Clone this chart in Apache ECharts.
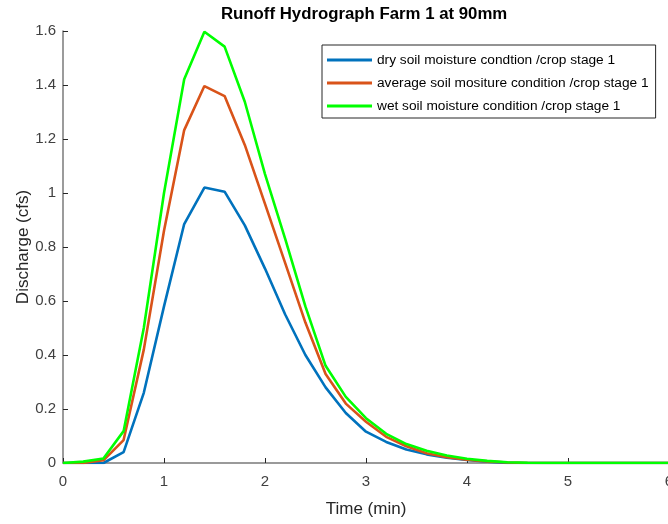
<!DOCTYPE html>
<html>
<head>
<meta charset="utf-8">
<script src="https://cdn.jsdelivr.net/npm/echarts@6/dist/echarts.min.js"></script>
<style>
  html, body { margin: 0; padding: 0; background: #fff; }
  #chart { width: 668px; height: 524px; }
</style>
</head>
<body>
<div id="chart"></div>
<script>
// time steps (min)
var timeMin = [0, 0.2, 0.4, 0.6, 0.8, 1.0, 1.2, 1.4, 1.6, 1.8, 2.0, 2.2, 2.4, 2.6, 2.8, 3.0,
  3.2, 3.4, 3.6, 3.8, 4.0, 4.2, 4.4, 4.6, 4.8, 5.0, 5.2, 5.4, 5.6, 5.8, 6.0]

// discharge (cfs)
var dryQ = [0, 0, 0, 0.04, 0.26, 0.58, 0.885, 1.02, 1.005, 0.88, 0.72, 0.55, 0.40, 0.28, 0.185, 0.116,
  0.078, 0.05, 0.032, 0.02, 0.011, 0.005, 0, 0, 0, 0, 0, 0, 0, 0, 0]
var avgQ = [0, 0, 0.01, 0.085, 0.42, 0.86, 1.233, 1.396, 1.359, 1.178, 0.96, 0.74, 0.52, 0.33, 0.22, 0.153,
  0.097, 0.062, 0.036, 0.021, 0.012, 0.006, 0.002, 0, 0, 0, 0, 0, 0, 0, 0]
var wetQ = [0, 0.005, 0.017, 0.118, 0.5, 1.0, 1.421, 1.597, 1.542, 1.338, 1.07, 0.83, 0.58, 0.36, 0.245, 0.166,
  0.108, 0.07, 0.045, 0.028, 0.016, 0.008, 0.003, 0.001, 0, 0, 0, 0, 0, 0, 0]

var seriesNames = ['dry soil moisture condtion /crop stage 1',
  'average soil mositure condition /crop stage 1',
  'wet soil moisture condition /crop stage 1']
var seriesColors = ['#0072bd', '#d95319', '#00ff00']

var xTicks = { min: 0, max: 6, step: 1 }
var yTicks = { min: 0, max: 1.6, step: 0.2 }

var FONT = '"Liberation Sans", Arial, sans-serif'

function pairs(ys) {
  var out = []
  for (var i = 0; i < timeMin.length; i++) {
    out.push([timeMin[i], ys[i]])
  }
  return out
}

var allQ = [dryQ, avgQ, wetQ]
var series = []
for (var k = 0; k < allQ.length; k++) {
  series.push({
    name: seriesNames[k],
    type: 'line',
    data: pairs(allQ[k]),
    showSymbol: false,
    symbol: 'none',
    clip: true,
    lineStyle: { color: seriesColors[k], width: 2.6 },
    itemStyle: { color: seriesColors[k] }
  })
}

var chart = echarts.init(document.getElementById('chart'), null, { renderer: 'canvas' })
chart.setOption({
  animation: false,
  backgroundColor: '#ffffff',
  textStyle: { fontFamily: FONT },
  title: {
    text: 'Runoff Hydrograph Farm 1 at 90mm',
    left: 221,
    top: 6,
    padding: 0,
    textStyle: { fontFamily: FONT, fontSize: 16.8, fontWeight: 'bold', color: '#000' }
  },
  legend: {
    orient: 'vertical',
    left: 322,
    top: 45,
    padding: [8, 7, 5, 5],
    itemGap: 9,
    itemWidth: 45,
    itemHeight: 3,
    icon: 'rect',
    borderColor: '#262626',
    borderWidth: 1,
    backgroundColor: '#fff',
    textStyle: { fontFamily: FONT, fontSize: 13.7, color: '#000', lineHeight: 14 },
    data: seriesNames
  },
  grid: { left: 63, top: 31, width: 606, bottom: 61, containLabel: false, outerBoundsMode: 'none' },
  xAxis: {
    type: 'value',
    min: xTicks.min,
    max: xTicks.max,
    interval: xTicks.step,
    name: 'Time (min)',
    nameLocation: 'middle',
    nameGap: 38,
    nameMoveOverlap: false,
    nameTextStyle: { fontFamily: FONT, fontSize: 17, color: '#262626' },
    axisLine: { show: true, lineStyle: { color: '#7a7a7a', width: 1.5 } },
    axisTick: { show: true, inside: true, length: 5, lineStyle: { color: '#262626', width: 1 } },
    axisLabel: { fontFamily: FONT, fontSize: 15, color: '#404040', margin: 11, showMaxLabel: true, alignMaxLabel: 'center' },
    splitLine: { show: false }
  },
  yAxis: {
    type: 'value',
    min: yTicks.min,
    max: yTicks.max,
    interval: yTicks.step,
    name: 'Discharge (cfs)',
    nameLocation: 'middle',
    nameGap: 31,
    nameMoveOverlap: false,
    nameTextStyle: { fontFamily: FONT, fontSize: 17, color: '#262626' },
    axisLine: { show: true, lineStyle: { color: '#7a7a7a', width: 1.5 } },
    axisTick: { show: true, inside: true, length: 5, lineStyle: { color: '#262626', width: 1 } },
    axisLabel: { fontFamily: FONT, fontSize: 15, color: '#404040', margin: 7 },
    splitLine: { show: false }
  },
  series: series
})
</script>
</body>
</html>
